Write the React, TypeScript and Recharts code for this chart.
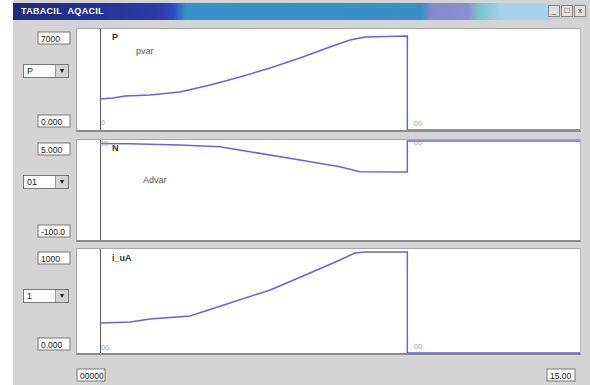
import React from 'react';
import { LineChart, Line, XAxis, YAxis, ReferenceLine } from 'recharts';

// time in seconds
const timeP = [0.69, 1.07, 1.43, 2.18, 3.07, 3.97, 4.86, 5.76, 6.65, 7.54, 8.14, 8.59, 9.85, 9.85, 15];
const valueP = [2149, 2218, 2356, 2426, 2634, 3119, 3673, 4297, 4990, 5752, 6238, 6446, 6515, 0, 0];

const timeN = [0.69, 1.58, 3.07, 4.26, 5.16, 6.65, 7.84, 8.44, 9.78, 9.85, 9.85, 15];
const valueN = [1.3, 1.0, -0.25, -2, -7.3, -16, -23, -28.3, -28.6, -28.6, 4, 4];

const timeI = [0.69, 1.58, 2.18, 3.37, 4.56, 5.76, 6.95, 7.84, 8.29, 8.59, 9.85, 9.85, 15];
const valueI = [288, 298, 327, 356, 481, 606, 769, 894, 962, 971, 971, 0, 0];

const yTicksP = [0, 7000];
const yLabelsP = ['0.000', '7000'];
const yTicksN = [-100, 5];
const yLabelsN = ['-100.0', '5.000'];
const yTicksI = [0, 1000];
const yLabelsI = ['0.000', '1000'];
const xTicks = [0, 15];
const xLabels = ['00000', '15.00'];

const selectors = ['P', '01', '1'];
const names = ['pvar', 'Advar', ''];
const symbols = ['P', 'N', 'i_uA'];
const cursorT = 0.7;

const toData = (t: number[], v: number[]) => t.map((x, i) => ({ t: x, v: v[i] }));

const font = '"Liberation Sans", Arial, sans-serif';
const blue = '#6464e4';

const panels = [
  { top: 29, height: 101, data: toData(timeP, valueP), ticks: yTicksP, labels: yLabelsP, domain: [0, 7000] },
  { top: 140, height: 100, data: toData(timeN, valueN), ticks: yTicksN, labels: yLabelsN, domain: [-100, 5] },
  { top: 249, height: 104, data: toData(timeI, valueI), ticks: yTicksI, labels: yLabelsI, domain: [0, 1000] },
];

const box = {
  fill: '#fff',
  stroke: '#777',
};

const YBoxTick = (props: any) => {
  const { y, payload, ticks, labels } = props;
  const idx = ticks.indexOf(payload.value);
  const isTop = idx === ticks.length - 1;
  const cy = y + (isTop ? 9 : -9);
  return (
    <g>
      <rect x={18} y={cy - 6} width={32} height={12} {...box} />
      <text x={21} y={cy + 3.5} fontSize={8.5} fontFamily={font} fill="#222">
        {labels[idx]}
      </text>
    </g>
  );
};

const XBoxTick = (props: any) => {
  const { x, payload, top } = props;
  const idx = xTicks.indexOf(payload.value);
  const left = idx === 0 ? x : x - 33;
  return (
    <g>
      <rect x={left} y={top} width={28} height={12} {...box} />
      <text x={left + 3} y={top + 9.5} fontSize={8.5} fontFamily={font} fill="#222">
        {xLabels[idx]}
      </text>
    </g>
  );
};

const Dropdown = ({ top, text }: { top: number; text: string }) => (
  <div
    style={{
      position: 'absolute',
      left: 23,
      top,
      width: 46,
      height: 14,
      background: '#fff',
      border: '1px solid #777',
      boxSizing: 'border-box',
      fontFamily: font,
      fontSize: 9,
      lineHeight: '12px',
      paddingLeft: 3,
      color: '#222',
    }}
  >
    {text}
    <div
      style={{
        position: 'absolute',
        right: 0,
        top: 0,
        width: 12,
        height: 12,
        background: '#d4d4d4',
        borderLeft: '1px solid #999',
        fontSize: 7,
        lineHeight: '12px',
        textAlign: 'center',
      }}
    >
      ▼
    </div>
  </div>
);

const tiny = (left: number, top: number, text: string) => (
  <div
    key={`${left}-${top}`}
    style={{ position: 'absolute', left, top, fontSize: 7, fontFamily: font, color: '#9a9a9a' }}
  >
    {text}
  </div>
);

export default function App() {
  return (
    <div
      style={{
        position: 'fixed',
        left: 0,
        top: 0,
        width: 590,
        height: 385,
        background: '#fff',
        overflow: 'hidden',
      }}
    >
      <div style={{ position: 'absolute', left: 13, top: 0, width: 577, height: 385, background: '#d4d4d4' }} />
      {/* title bar */}
      <div
        style={{
          position: 'absolute',
          left: 13,
          top: 3,
          width: 575,
          height: 17,
          background:
            'linear-gradient(90deg, #1e2a78 0%, #2c3aa8 25%, #2f4cc0 28%, #3592c8 30%, #3a8ec4 71%, #8a88d0 73%, #8c8cd0 79%, #78c4cc 81%, #a6d2f2 85%, #a6d2f2 93%, #cfcfcf 94%)',
        }}
      >
        <span
          style={{
            position: 'absolute',
            left: 8,
            top: 3,
            color: '#fff',
            fontFamily: font,
            fontWeight: 'bold',
            fontSize: 9,
            letterSpacing: 0.3,
          }}
        >
          TABACIL&nbsp;&nbsp;AQACIL
        </span>
        {['_', '□', 'x'].map((c, i) => (
          <div
            key={c}
            style={{
              position: 'absolute',
              left: 535 + i * 13,
              top: 2,
              width: 12,
              height: 12,
              background: '#e0e0e0',
              border: '1px solid #888',
              boxSizing: 'border-box',
              fontSize: 8,
              lineHeight: '10px',
              textAlign: 'center',
              fontFamily: font,
              color: '#333',
            }}
          >
            {c}
          </div>
        ))}
      </div>

      {panels.map((p, i) => (
        <div
          key={`frame${i}`}
          style={{
            position: 'absolute',
            left: 76,
            top: p.top - 1,
            width: 505,
            height: p.height + 3,
            background: '#fff',
            borderTop: '1px solid #a8a8a8',
            borderLeft: '1px solid #a8a8a8',
            borderBottom: '2px solid #8c8c8c',
            borderRight: '1px solid #c0c0c0',
            boxSizing: 'border-box',
          }}
        />
      ))}

      {panels.map((p, i) => {
        const last = i === panels.length - 1;
        return (
          <div key={`chart${i}`} style={{ position: 'absolute', left: 20, top: p.top }}>
            <LineChart
              width={560}
              height={p.height + (last ? 32 : 0)}
              data={p.data}
              margin={{ top: 0, right: 0, bottom: 0, left: 0 }}
            >
              <XAxis
                dataKey="t"
                type="number"
                domain={[0, 15]}
                ticks={xTicks}
                hide={!last}
                height={32}
                axisLine={false}
                tickLine={false}
                interval={0}
                tick={<XBoxTick top={p.height + 16} />}
              />
              <YAxis
                type="number"
                domain={p.domain}
                ticks={p.ticks}
                width={57}
                axisLine={false}
                tickLine={false}
                interval={0}
                tick={<YBoxTick ticks={p.ticks} labels={p.labels} />}
              />
              <ReferenceLine x={cursorT} stroke="#5a5a5a" strokeWidth={1} />
              <Line
                type="linear"
                dataKey="v"
                stroke={blue}
                strokeWidth={1.5}
                dot={false}
                isAnimationActive={false}
              />
            </LineChart>
          </div>
        );
      })}

      {panels.map((p, i) => (
        <Dropdown key={`dd${i}`} top={[64, 175, 289][i]} text={selectors[i]} />
      ))}

      {symbols.map((s, i) => (
        <div
          key={`sym${i}`}
          style={{
            position: 'absolute',
            left: 112,
            top: [32, 143, 253][i],
            fontSize: 9,
            fontWeight: 'bold',
            fontFamily: font,
            color: '#333',
          }}
        >
          {s}
        </div>
      ))}
      {names.map((s, i) => (
        <div
          key={`nm${i}`}
          style={{
            position: 'absolute',
            left: [136, 143, 140][i],
            top: [46, 175, 280][i],
            fontSize: 9,
            fontFamily: font,
            color: '#555',
          }}
        >
          {s}
        </div>
      ))}

      {tiny(101, 119, '0')}
      {tiny(414, 120, '00')}
      {tiny(100, 140, '00')}
      {tiny(414, 139, '00')}
      {tiny(101, 344, '00')}
      {tiny(414, 343, '00')}
    </div>
  );
}
